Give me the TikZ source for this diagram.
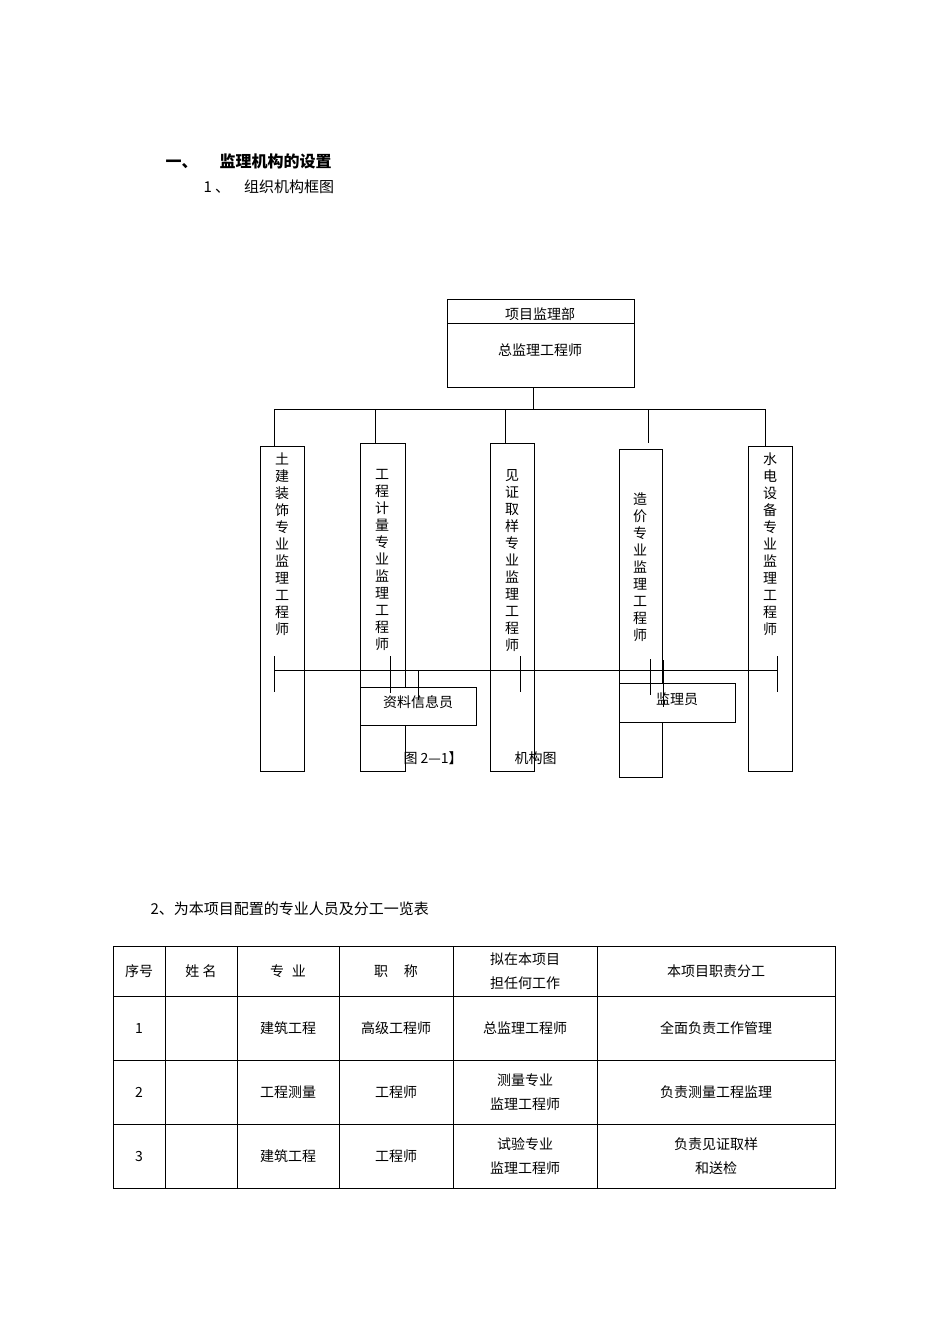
\documentclass[tikz,border=0pt]{standalone}
\usepackage{fontspec}
\setmainfont{Liberation Serif}
\newfontfamily\cjk{Noto Sans CJK SC}
\begin{document}
\begin{tikzpicture}[x=1pt,y=-1pt,line width=1pt,
  every node/.style={font=\cjk\fontsize{14}{17}\selectfont,inner sep=0pt},
  vt/.style={align=center,anchor=north},
  bx/.style={draw,fill=white}]
\useasboundingbox (0,0) rectangle (950,1344);
% headings
\node[anchor=west,font=\cjk\bfseries\fontsize{16}{18}\selectfont] (h1) at (165,161) {一、\hspace{22pt}监理机构的设置};
\node[anchor=west,font=\cjk\fontsize{15}{18}\selectfont] (h2) at (203,187) {1 、\hspace{14pt}组织机构框图};
% top box
\draw (447,299) rectangle (634,387);
\draw (447,323) -- (634,323);
\node (t1) at (540,314) {项目监理部};
\node (t2) at (540,350) {总监理工程师};
\draw (533,387) -- (533,409);
\draw (274,409) -- (765,409);
\foreach \x/\b in {274/446,375/443,505/443,648/443,765/446} \draw (\x,409) -- (\x,\b);
% columns
\draw (260,446) rectangle (304,771);
\draw (360,443) rectangle (405,771);
\draw (490,443) rectangle (534,771);
\draw (619,449) rectangle (662,777);
\draw (748,446) rectangle (792,771);
\node[vt] (c1) at (282,452) {土\\建\\装\\饰\\专\\业\\监\\理\\工\\程\\师};
\node[vt] (c2) at (382,469) {工\\程\\计\\量\\专\\业\\监\\理\\工\\程\\师};
\node[vt] (c3) at (512,469) {见\\证\\取\\样\\专\\业\\监\\理\\工\\程\\师};
\node[vt] (c4) at (640,492) {造\\价\\专\\业\\监\\理\\工\\程\\师};
\node[vt] (c5) at (770,452) {水\\电\\设\\备\\专\\业\\监\\理\\工\\程\\师};
% bottom line
\draw (274,670) -- (777,670);
\foreach \x in {274,520,777} \draw (\x,656) -- (\x,692);
\draw[bx] (360,687) rectangle (476,725);
\node (z) at (418,702) {资料信息员};
\draw[bx] (619,683) rectangle (735,722);
\node (j) at (677,699) {监理员};
\draw (390,656) -- (390,693);
\draw (418,670) -- (418,700);
\draw (650,659) -- (650,695);
\draw (663,660) -- (663,707);
\node[anchor=west] (cap) at (403,758) {图 2—1】\hspace{52pt}机构图};
% table
\node[anchor=west,font=\cjk\fontsize{15}{18}\selectfont] (h3) at (150,909) {2、为本项目配置的专业人员及分工一览表};
\draw[line width=0.8pt] (113,946) rectangle (835,1188);
\foreach \y in {996,1060,1124} \draw[line width=0.8pt] (113,\y) -- (835,\y);
\foreach \x in {165,237,339,453,597} \draw[line width=0.8pt] (\x,946) -- (\x,1188);
\node (a1) at (139,971) {序号};
\node (a2) at (201,971) {姓 名};
\node (a3) at (288,971) {专\hspace{8pt}业};
\node (a4) at (396,971) {职\hspace{16pt}称};
\node[align=center,font=\cjk\fontsize{14}{24}\selectfont] (a5) at (525,971) {拟在本项目\\担任何工作};
\node (a6) at (716,971) {本项目职责分工};
\node (b1) at (139,1028) {1};
\node (b3) at (288,1028) {建筑工程};
\node (b4) at (396,1028) {高级工程师};
\node (b5) at (525,1028) {总监理工程师};
\node (b6) at (716,1028) {全面负责工作管理};
\node (d1) at (139,1092) {2};
\node (d3) at (288,1092) {工程测量};
\node (d4) at (396,1092) {工程师};
\node[align=center,font=\cjk\fontsize{14}{24}\selectfont] (d5) at (525,1092) {测量专业\\监理工程师};
\node (d6) at (716,1092) {负责测量工程监理};
\node (e1) at (139,1156) {3};
\node (e3) at (288,1156) {建筑工程};
\node (e4) at (396,1156) {工程师};
\node[align=center,font=\cjk\fontsize{14}{24}\selectfont] (e5) at (525,1156) {试验专业\\监理工程师};
\node[align=center,font=\cjk\fontsize{14}{24}\selectfont] (e6) at (716,1156) {负责见证取样\\和送检};
\end{tikzpicture}
\end{document}
